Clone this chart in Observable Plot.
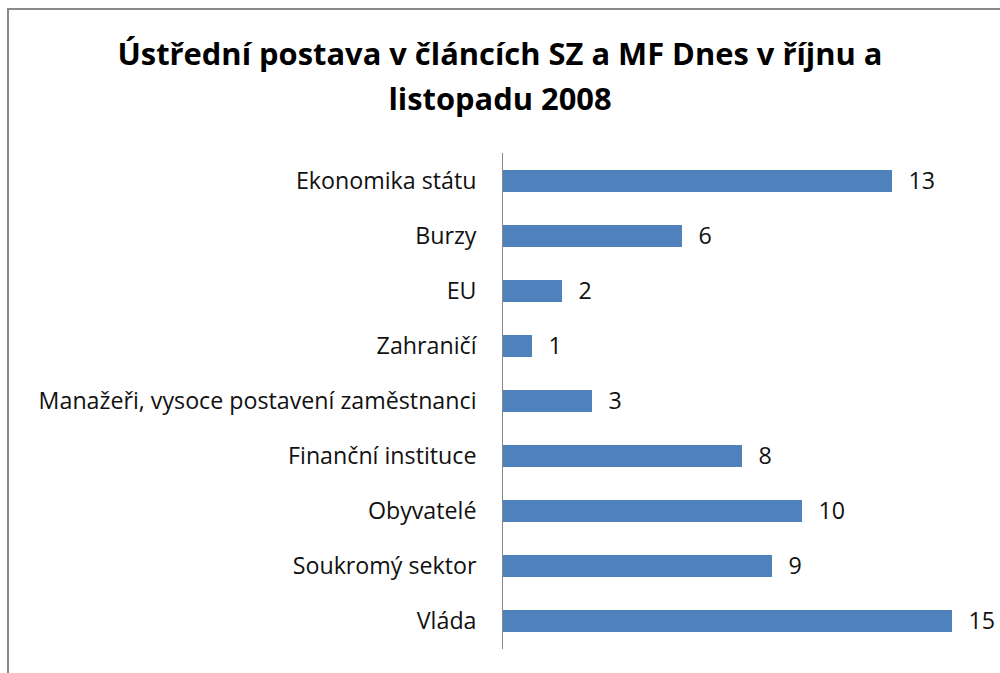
<!DOCTYPE html>
<html>
<head>
<meta charset="utf-8">
<script src="https://cdn.jsdelivr.net/npm/d3@7"></script>
<script src="https://cdn.jsdelivr.net/npm/@observablehq/plot@0.6"></script>
<style>
  html, body { margin: 0; padding: 0; background: #fff; }
  #wrap { position: relative; width: 1000px; height: 673px; overflow: hidden; background: #fff; }
  #frame { position: absolute; left: 7px; top: 8px; right: -10px; bottom: -10px; border-left: 2px solid #8a8a8a; border-top: 2px solid #8a8a8a; }
  #title { position: absolute; left: 0; width: 1000px; top: 31px; text-align: center; font-family: "Open Sans", sans-serif; font-weight: bold; color: #000; line-height: 45px; }
  #chart { position: absolute; left: 0; top: 0; }
</style>
</head>
<body>
<div id="wrap">
  <div id="frame"></div>
  <div id="title"><span id="t1">Ústřední postava v článcích SZ a MF Dnes v říjnu a</span><br><span>listopadu 2008</span></div>
  <div id="chart"></div>
</div>
<script>
const categories = [
  "Ekonomika státu",
  "Burzy",
  "EU",
  "Zahraničí",
  "Manažeři, vysoce postavení zaměstnanci",
  "Finanční instituce",
  "Obyvatelé",
  "Soukromý sektor",
  "Vláda"
];
const values = [13, 6, 2, 1, 3, 8, 10, 9, 15];
const titleText = "Ústřední postava v článcích SZ a MF Dnes v říjnu a";

const data = categories.map((c, i) => ({category: c, value: values[i]}));

// fit font sizes to the reference's measured text widths
const ctx = document.createElement("canvas").getContext("2d");
function fitSize(text, weight, family, target) {
  ctx.font = `${weight} 100px ${family}`;
  return 100 * target / ctx.measureText(text).width;
}
const titleSize = fitSize(titleText, "bold", '"Open Sans"', 765);
document.getElementById("title").style.fontSize = titleSize + "px";
const labelSize = fitSize(categories[4], "normal", '"Open Sans"', 438);

const chart = Plot.plot({
  width: 1000,
  height: 673,
  marginTop: 153,
  marginBottom: 24,
  marginLeft: 502,
  marginRight: 48,
  style: {fontFamily: '"Open Sans", sans-serif', background: "transparent", overflow: "visible"},
  x: {domain: [0, 15], axis: null},
  y: {domain: categories, paddingInner: 0.6, paddingOuter: 0.3, label: null},
  marks: [
    Plot.axisY({tickSize: 0, tickPadding: 26, fontSize: labelSize, fill: "#111", label: null}),
    Plot.barX(data, {x: "value", y: "category", fill: "#4F81BD"}),
    Plot.text(data, {x: "value", y: "category", text: d => String(d.value), textAnchor: "start", dx: 16, fontSize: labelSize, fill: "#111"}),
    Plot.ruleX([0], {stroke: "#888", strokeWidth: 1})
  ]
});
document.getElementById("chart").appendChild(chart);
</script>
</body>
</html>
